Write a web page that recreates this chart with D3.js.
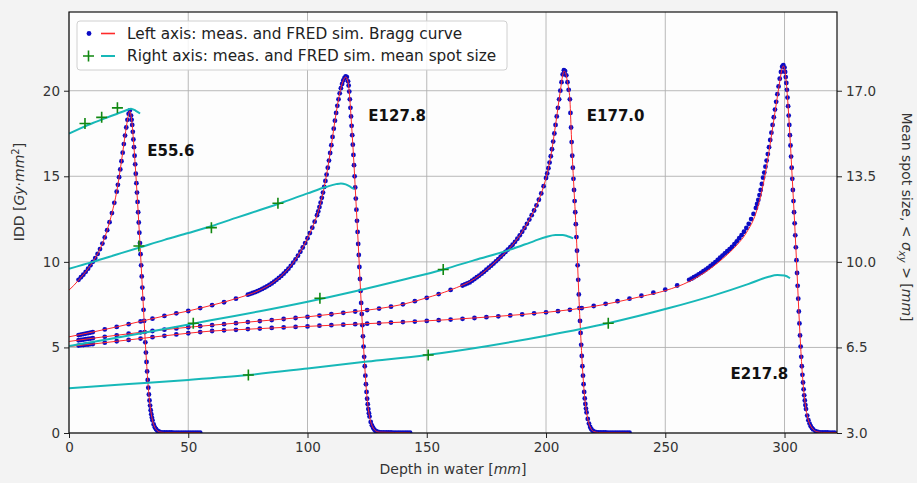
<!DOCTYPE html>
<html>
<head>
<meta charset="utf-8">
<script src="https://cdn.jsdelivr.net/npm/d3@7"></script>
<style>
  html, body { margin: 0; padding: 0; background: #f3f3f3; }
  svg { display: block; font-family: "DejaVu Sans", sans-serif; }
</style>
</head>
<body>
<svg id="chart" width="917" height="483"></svg>
<script>
// ---- tick labels ----
const depthTicks = [0, 50, 100, 150, 200, 250, 300];
const iddTicks = [0, 5, 10, 15, 20];
const spotTicks = [3.0, 6.5, 10.0, 13.5, 17.0];

// ---- beam energies (MeV) ----
const energies = ["E55.6", "E127.8", "E177.0", "E217.8"];

// ---- measured integral depth dose, [depth mm, IDD] ----
const measE55 = [[4,8.95],[5,9.1],[6,9.25],[7,9.42],[8,9.6],[9,9.8],[10,10.0],[11,10.22],[12,10.47],[13,10.75],[14,11.07],[15,11.43],[16,11.85],[17,12.32],[18,12.85],[19,13.45],[20,14.1],[20.5,14.5],[21,14.95],[21.5,15.4],[22,15.88],[22.5,16.38],[23,16.88],[23.5,17.38],[24,17.85],[24.5,18.3],[25,18.65],[25.5,18.85],
  [26,18.55],[26.25,18.3],[26.5,18.0],[26.75,17.6],[27,17.15],[27.25,16.7],[27.5,16.2],[27.75,15.7],[28,15.15],[28.25,14.6],[28.5,14.05],[28.75,13.5],[29,12.9],[29.25,12.3],[29.5,11.7],[29.75,11.1],[30,10.45],[30.25,9.8],[30.5,9.15],[30.75,8.5],[31,7.85],[31.25,7.2],[31.5,6.55],[31.75,5.9],[32,5.3],[32.25,4.7],[32.5,4.15],[32.75,3.6],[33,3.1],[33.25,2.65],[33.5,2.25],[33.75,1.9],[34,1.6],[34.25,1.33],[34.5,1.1],[34.75,0.9],[35,0.74],[35.5,0.5],[36,0.33],[36.5,0.22],[37,0.14],[37.5,0.09],[38,0.06],[39,0.04],
  [40,0.03],[41,0.03],[42,0.03],[43,0.03],[44,0.02],[45,0.02],[46,0.02],[47,0.02],[48,0.02],[49,0.02],[50,0.02],[51,0.02],[52,0.02],[53,0.02],[54,0.02],[55,0.02]];

const measE127 = [[4,5.72],[5,5.75],[6,5.78],[7,5.81],[8,5.84],[9,5.87],[10,5.9],[15,6.05],[20,6.2],[25,6.36],[30,6.52],[35,6.68],[40,6.84],[45,6.99],[50,7.13],[55,7.3],[60,7.47],[65,7.64],[70,7.85],[75,8.08],
  [76,8.13],[77,8.18],[78,8.23],[79,8.29],[80,8.35],[81,8.42],[82,8.49],[83,8.57],[84,8.65],[85,8.74],[86,8.84],[87,8.95],[88,9.06],[89,9.18],[90,9.31],[91,9.45],[92,9.6],[93,9.77],[94,9.95],[95,10.15],[96,10.36],[97,10.59],[98,10.84],[99,11.1],[100,11.38],[101,11.68],[102,12.0],[103,12.35],[104,12.73],[104.5,12.95],[105,13.2],[105.5,13.46],[106,13.74],[106.5,14.05],[107,14.38],[107.5,14.73],[108,15.1],[108.5,15.5],[109,15.92],[109.5,16.36],[110,16.82],[110.5,17.3],[111,17.78],[111.5,18.25],[112,18.7],[112.5,19.12],[113,19.5],[113.5,19.85],[114,20.15],[114.5,20.4],[115,20.6],[115.5,20.75],[116,20.83],[116.5,20.8],[117,20.55],
  [117.25,20.3],[117.5,19.95],[117.75,19.5],[118,19.0],[118.25,18.5],[118.5,17.95],[118.75,17.4],[119,16.85],[119.25,16.25],[119.5,15.65],[119.75,15.0],[120,14.35],[120.25,13.7],[120.5,13.05],[120.75,12.4],[121,11.75],[121.25,11.05],[121.5,10.4],[121.75,9.7],[122,9.0],[122.25,8.3],[122.5,7.6],[122.75,6.95],[123,6.3],[123.25,5.65],[123.5,5.05],[123.75,4.45],[124,3.9],[124.25,3.35],[124.5,2.85],[124.75,2.4],[125,2.0],[125.25,1.68],[125.5,1.4],[125.75,1.16],[126,0.96],[126.5,0.65],[127,0.45],[127.5,0.3],[128,0.2],[128.5,0.13],[129,0.09],[130,0.05],
  [131,0.03],[132,0.03],[133,0.03],[134,0.03],[135,0.03],[136,0.02],[137,0.02],[138,0.02],[139,0.02],[140,0.02],[141,0.02],[142,0.02],[143,0.02]];

const measE177 = [[4,5.42],[5,5.44],[6,5.46],[7,5.48],[8,5.5],[9,5.52],[10,5.54],[15,5.62],[20,5.71],[25,5.8],[30,5.88],[35,5.96],[40,6.04],[45,6.11],[50,6.18],[55,6.24],[60,6.3],[65,6.36],[70,6.42],[75,6.48],[80,6.54],[85,6.6],[90,6.66],[95,6.72],[100,6.79],[105,6.86],[110,6.94],[115,7.02],[120,7.1],[125,7.18],[130,7.27],[135,7.38],[140,7.52],[145,7.7],[150,7.9],[155,8.12],[160,8.36],[165,8.62],
  [166,8.68],[167,8.74],[168,8.8],[169,8.9],[170,9.0],[171,9.1],[172,9.2],[173,9.31],[174,9.42],[175,9.54],[176,9.66],[177,9.78],[178,9.9],[179,10.03],[180,10.16],[181,10.3],[182,10.44],[183,10.58],[184,10.72],[185,10.86],[186,11.0],[187,11.17],[188,11.35],[189,11.55],[190,11.76],[191,11.98],[192,12.22],[193,12.47],[194,12.73],[195,13.0],[196,13.3],[197,13.63],[198,14.0],[199,14.42],[200,14.9],[200.5,15.17],[201,15.47],[201.5,15.8],[202,16.17],[202.5,16.58],[203,17.03],[203.5,17.5],[204,18.0],[204.5,18.5],[205,19.0],[205.5,19.5],[206,20.0],[206.5,20.5],[207,20.95],[207.5,21.2],[208,21.15],[208.5,20.9],[209,20.5],[209.5,20.05],[210,19.5],
  [210.25,18.7],[210.5,17.85],[210.75,17.0],[211,16.2],[211.25,15.5],[211.5,14.85],[211.75,14.2],[212,13.55],[212.25,12.9],[212.5,12.2],[212.75,11.45],[213,10.65],[213.25,9.8],[213.5,8.95],[213.75,8.1],[214,7.3],[214.25,6.55],[214.5,5.85],[214.75,5.15],[215,4.5],[215.25,3.9],[215.5,3.35],[215.75,2.85],[216,2.4],[216.25,2.02],[216.5,1.7],[216.75,1.43],[217,1.2],[217.5,0.82],[218,0.55],[218.5,0.35],[219,0.22],[219.5,0.14],[220,0.09],[221,0.05],
  [222,0.03],[223,0.03],[224,0.03],[225,0.03],[226,0.02],[227,0.02],[228,0.02],[229,0.02],[230,0.02],[231,0.02],[232,0.02],[233,0.02],[234,0.02],[235,0.02]];

const measE217 = [[4,5.11],[5,5.13],[6,5.14],[7,5.16],[8,5.17],[9,5.19],[10,5.2],[15,5.28],[20,5.36],[25,5.44],[30,5.52],[35,5.6],[40,5.68],[45,5.76],[50,5.83],[55,5.9],[60,5.96],[65,6.0],[70,6.03],[75,6.07],[80,6.1],[85,6.14],[90,6.17],[95,6.2],[100,6.23],[105,6.27],[110,6.3],[115,6.33],[120,6.36],[125,6.39],[130,6.42],[135,6.45],[140,6.48],[145,6.51],[150,6.55],[155,6.59],[160,6.63],[165,6.67],[170,6.72],[175,6.77],[180,6.82],[185,6.87],[190,6.93],[195,6.99],[200,7.05],[205,7.12],[210,7.2],[215,7.3],[220,7.42],[225,7.55],[230,7.7],[235,7.85],[240,8.02],[245,8.2],[250,8.38],[255,8.62],
  [260,8.95],[261,9.02],[262,9.1],[263,9.18],[264,9.27],[265,9.36],[266,9.45],[267,9.55],[268,9.65],[269,9.76],[270,9.87],[271,9.99],[272,10.11],[273,10.24],[274,10.37],[275,10.5],[276,10.62],[277,10.75],[278,10.88],[279,11.04],[280,11.2],[281,11.38],[282,11.56],[283,11.76],[284,11.98],[285,12.22],[286,12.5],[287,12.8],[288,13.15],[288.5,13.38],[289,13.62],[289.5,13.9],[290,14.2],[290.5,14.55],[291,14.92],[291.5,15.22],[292,15.56],[292.5,15.92],[293,16.3],[293.5,16.7],[294,17.12],[294.5,17.55],[295,18.0],[295.5,18.45],[296,18.9],[296.5,19.35],[297,19.8],[297.5,20.25],[298,20.7],[298.5,21.1],[299,21.4],[299.5,21.5],
  [300,21.35],[300.25,21.1],[300.5,20.8],[300.75,20.45],[301,20.05],[301.25,19.6],[301.5,19.1],[301.75,18.55],[302,18.0],[302.25,17.4],[302.5,16.8],[302.75,16.15],[303,15.5],[303.25,14.85],[303.5,14.2],[303.75,13.55],[304,12.9],[304.25,12.25],[304.5,11.55],[304.75,10.85],[305,10.1],[305.25,9.35],[305.5,8.6],[305.75,7.85],[306,7.1],[306.25,6.4],[306.5,5.7],[306.75,5.05],[307,4.45],[307.25,3.9],[307.5,3.4],[307.75,2.95],[308,2.55],[308.25,2.2],[308.5,1.9],[308.75,1.63],[309,1.4],[309.5,1.02],[310,0.75],[310.5,0.55],[311,0.4],[311.5,0.29],[312,0.21],[313,0.11],[314,0.06],[315,0.04],
  [316,0.03],[317,0.03],[318,0.03],[319,0.02],[320,0.02],[321,0.02]];

// ---- FRED simulated integral depth dose, [depth mm, IDD] ----
const simE55 = [[0,8.35],[2,8.62],[4,8.93],[6,9.25],[8,9.6],[10,10.0],[12,10.47],[14,11.07],[16,11.85],[18,12.85],[20,14.1],[21,14.95],[22,15.88],[23,16.88],[24,17.85],[25,18.62],[25.5,18.8],[26,18.55],[26.5,18.0],[27,17.15],[27.5,16.2],[28,15.15],[28.5,14.05],[29,12.9],[29.5,11.7],[30,10.45],[30.5,9.15],[31,7.85],[31.5,6.55],[32,5.3],[32.5,4.15],[33,3.1],[33.5,2.25],[34,1.6],[34.5,1.1],[35,0.74],[36,0.33],[37,0.14],[38,0.06],[40,0.03],[55,0.02]];
const simE127 = [[0,5.62],[10,5.9],[20,6.2],[30,6.52],[40,6.84],[50,7.13],[60,7.47],[70,7.85],[80,8.35],[85,8.74],[90,9.31],[95,10.15],[100,11.38],[102,12.0],[104,12.73],[106,13.74],[108,15.1],[110,16.82],[112,18.7],[113,19.5],[114,20.15],[115,20.6],[116,20.8],[117,20.5],[117.5,19.95],[118,19.0],[118.5,17.95],[119,16.85],[119.5,15.65],[120,14.35],[120.5,13.05],[121,11.75],[121.5,10.4],[122,9.0],[122.5,7.6],[123,6.3],[123.5,5.05],[124,3.9],[124.5,2.85],[125,2.0],[125.5,1.4],[126,0.96],[127,0.45],[128,0.2],[130,0.05],[143,0.02]];
const simE177 = [[0,5.35],[10,5.54],[20,5.71],[30,5.88],[40,6.04],[50,6.18],[60,6.3],[70,6.42],[80,6.54],[90,6.66],[100,6.79],[110,6.94],[120,7.1],[130,7.27],[140,7.52],[150,7.9],[160,8.36],[170,9.0],[180,10.16],[186,11.0],[190,11.76],[194,12.73],[197,13.63],[200,14.9],[202,16.17],[204,18.0],[206,20.0],[207,20.9],[207.5,21.15],[208,21.1],[209,20.5],[210,19.5],[210.5,17.85],[211,16.2],[211.5,14.85],[212,13.55],[212.5,12.2],[213,10.65],[213.5,8.95],[214,7.3],[214.5,5.85],[215,4.5],[215.5,3.35],[216,2.4],[216.5,1.7],[217,1.2],[218,0.55],[219,0.22],[220,0.09],[222,0.03],[235,0.02]];
const simE217 = [[0,5.05],[10,5.2],[20,5.36],[30,5.52],[40,5.68],[50,5.83],[60,5.96],[70,6.03],[80,6.1],[90,6.17],[100,6.23],[120,6.36],[140,6.48],[160,6.63],[180,6.82],[200,7.05],[220,7.4],[240,7.98],[250,8.32],[260,8.85],[265,9.25],[270,9.72],[275,10.3],[280,10.98],[284,11.7],[288,12.85],[290,13.85],[292,15.2],[294,16.9],[296,18.75],[297,19.65],[298,20.55],[299,21.3],[299.5,21.45],[300,21.3],[300.5,20.8],[301,20.05],[301.5,19.1],[302,18.0],[302.5,16.8],[303,15.5],[303.5,14.2],[304,12.9],[304.5,11.55],[305,10.1],[305.5,8.6],[306,7.1],[306.5,5.7],[307,4.45],[307.5,3.4],[308,2.55],[308.5,1.9],[309,1.4],[310,0.75],[311,0.4],[312,0.21],[314,0.06],[316,0.03],[322,0.02]];

// ---- mean spot size: FRED simulation, [depth mm, sigma mm] ----
const spotSimE55 = [[0,15.25],[5,15.47],[10,15.68],[15,15.87],[20,16.05],[24,16.2],[26,16.26],[28,16.18],[29.8,16.07]];
const spotSimE127 = [[0,9.72],[10,10.0],[20,10.3],[30,10.6],[40,10.9],[50,11.18],[60,11.47],[70,11.8],[80,12.12],[90,12.45],[100,12.8],[108,13.07],[112,13.18],[114,13.21],[116,13.17],[118,13.07],[119.5,12.98]];
const spotSimE177 = [[0,6.56],[20,6.9],[40,7.25],[52,7.47],[60,7.62],[80,7.98],[100,8.37],[120,8.8],[140,9.27],[157,9.69],[170,10.07],[185,10.5],[195,10.85],[200,11.02],[204,11.1],[207,11.1],[209,11.05],[211.4,10.96]];
const spotSimE217 = [[0,4.83],[25,5.0],[50,5.17],[75,5.37],[100,5.64],[125,5.92],[150,6.19],[175,6.55],[200,6.98],[226,7.49],[252,8.12],[270,8.62],[285,9.1],[293,9.38],[297,9.46],[300,9.44],[302.3,9.33]];

// ---- mean spot size: measurements, [depth mm, sigma mm] ----
const spotMeasE55 = [[6.7,15.66],[13.7,15.91],[20.3,16.3]];
const spotMeasE127 = [[29.3,10.65],[59.7,11.4],[87.6,12.4]];
const spotMeasE177 = [[52.1,7.49],[105.2,8.51],[156.9,9.69]];
const spotMeasE217 = [[75.2,5.37],[150.6,6.19],[226.1,7.49]];

// ---- energy label anchors, [depth mm, IDD] ----
const labelDepth = [32.8, 125.5, 217.1, 277.4];
const labelIdd = [16.5, 18.57, 18.57, 3.49];

const measIdd = [measE55, measE127, measE177, measE217];
const simIdd = [simE55, simE127, simE177, simE217];
const spotSim = [spotSimE55, spotSimE127, spotSimE177, spotSimE217];
const spotMeas = [spotMeasE55, spotMeasE127, spotMeasE177, spotMeasE217];

// ---- layout ----
const W = 917, H = 483;
const plot = { left: 69, right: 837, top: 12, bottom: 433 };
const iddMax = 24.6;

const x = d3.scaleLinear().domain([0, 322]).range([plot.left, plot.right]);
const yL = d3.scaleLinear().domain([0, iddMax]).range([plot.bottom, plot.top]);
const yR = d3.scaleLinear().domain([3, 3 + 0.7 * iddMax]).range([plot.bottom, plot.top]);

const svg = d3.select("#chart");
svg.append("rect").attr("width", W).attr("height", H).attr("fill", "#f3f3f3");
svg.append("rect")
  .attr("x", plot.left).attr("y", plot.top)
  .attr("width", plot.right - plot.left).attr("height", plot.bottom - plot.top)
  .attr("fill", "#fdfdfd");

svg.append("defs").append("clipPath").attr("id", "clip")
  .append("rect")
  .attr("x", plot.left).attr("y", plot.top)
  .attr("width", plot.right - plot.left).attr("height", plot.bottom - plot.top);

// grid
const grid = svg.append("g").attr("stroke", "#b0b0b0").attr("stroke-width", 0.9);
grid.selectAll(".gx").data(depthTicks).join("line")
  .attr("x1", d => x(d)).attr("x2", d => x(d))
  .attr("y1", plot.top).attr("y2", plot.bottom);
grid.selectAll(".gy").data(iddTicks).join("line")
  .attr("x1", plot.left).attr("x2", plot.right)
  .attr("y1", d => yL(d)).attr("y2", d => yL(d));

const layer = svg.append("g").attr("clip-path", "url(#clip)");

// Bragg curves: measured dots with the simulated line through them
const simLine = d3.line().x(d => x(d[0])).y(d => yL(d[1])).curve(d3.curveMonotoneX);
measIdd.forEach((series, i) => {
  layer.append("g").selectAll("circle").data(series).join("circle")
    .attr("cx", d => x(d[0])).attr("cy", d => yL(d[1]))
    .attr("r", 2.4).attr("fill", "#0c0cc4");
  layer.append("path").datum(simIdd[i])
    .attr("d", simLine).attr("fill", "none")
    .attr("stroke", "#ff2a2a").attr("stroke-width", 1);
});

// spot size (right axis)
const spotLine = d3.line().x(d => x(d[0])).y(d => yR(d[1])).curve(d3.curveMonotoneX);
spotSim.forEach((series, i) => {
  layer.append("path").datum(series)
    .attr("d", spotLine).attr("fill", "none")
    .attr("stroke", "#17b8b8").attr("stroke-width", 2);
  const m = layer.append("g").attr("stroke", "#118811").attr("stroke-width", 1.6);
  m.selectAll("path").data(spotMeas[i]).join("path")
    .attr("d", d => `M${x(d[0]) - 5.5},${yR(d[1])}h11M${x(d[0])},${yR(d[1]) - 5.5}v11`);
});

// energy labels
svg.append("g").selectAll("text").data(energies).join("text")
  .attr("x", (d, i) => x(labelDepth[i]))
  .attr("y", (d, i) => yL(labelIdd[i]))
  .attr("dy", "0.36em")
  .attr("font-size", 15).attr("font-weight", "bold").attr("fill", "#111")
  .text(d => d);

// axes
const axisStyle = g => {
  g.select(".domain").remove();
  g.selectAll(".tick line").attr("stroke", "#222").attr("stroke-width", 1);
  g.selectAll(".tick text").attr("fill", "#333").attr("font-size", 13.5)
    .attr("font-family", "DejaVu Sans");
};
svg.append("g").attr("transform", `translate(0,${plot.bottom})`)
  .call(d3.axisBottom(x).tickValues(depthTicks).tickFormat(d3.format("d")).tickSize(5).tickPadding(4))
  .call(axisStyle);
svg.append("g").attr("transform", `translate(${plot.left},0)`)
  .call(d3.axisLeft(yL).tickValues(iddTicks).tickFormat(d3.format("d")).tickSize(5).tickPadding(4))
  .call(axisStyle);
svg.append("g").attr("transform", `translate(${plot.right},0)`)
  .call(d3.axisRight(yR).tickValues(spotTicks).tickFormat(d3.format(".1f")).tickSize(5).tickPadding(4))
  .call(axisStyle);

// frame
svg.append("rect")
  .attr("x", plot.left).attr("y", plot.top)
  .attr("width", plot.right - plot.left).attr("height", plot.bottom - plot.top)
  .attr("fill", "none").attr("stroke", "#111").attr("stroke-width", 1.2);

// axis titles
svg.append("text")
  .attr("x", (plot.left + plot.right) / 2).attr("y", 474)
  .attr("text-anchor", "middle").attr("font-size", 14).attr("fill", "#333")
  .call(t => {
    t.append("tspan").text("Depth in water [");
    t.append("tspan").attr("font-style", "italic").text("mm");
    t.append("tspan").text("]");
  });

svg.append("text")
  .attr("transform", "translate(24,192) rotate(-90)")
  .attr("text-anchor", "middle").attr("font-size", 14).attr("fill", "#333")
  .call(t => {
    t.append("tspan").text("IDD [");
    t.append("tspan").attr("font-style", "italic").text("Gy");
    t.append("tspan").text("·");
    t.append("tspan").attr("font-style", "italic").text("mm");
    t.append("tspan").attr("font-size", 10).attr("dy", -5).text("2");
    t.append("tspan").attr("dy", 5).text("]");
  });

svg.append("text")
  .attr("transform", "translate(902,217) rotate(90)")
  .attr("text-anchor", "middle").attr("font-size", 14).attr("fill", "#333")
  .call(t => {
    t.append("tspan").text("Mean spot size,  < ");
    t.append("tspan").attr("font-style", "italic").text("σ");
    t.append("tspan").attr("font-style", "italic").attr("font-size", 10).attr("dy", 3).text("xy");
    t.append("tspan").attr("dy", -3).text(" > [");
    t.append("tspan").attr("font-style", "italic").text("mm");
    t.append("tspan").text("]");
  });

// legend
const lg = svg.append("g");
lg.append("rect").attr("x", 77).attr("y", 21).attr("width", 430).attr("height", 49)
  .attr("rx", 3).attr("fill", "#ffffff").attr("fill-opacity", 0.85)
  .attr("stroke", "#d0d0d0").attr("stroke-width", 1);
lg.append("circle").attr("cx", 89).attr("cy", 33.5).attr("r", 2.4).attr("fill", "#0c0cc4");
lg.append("line").attr("x1", 101).attr("x2", 115).attr("y1", 33.5).attr("y2", 33.5)
  .attr("stroke", "#ff2a2a").attr("stroke-width", 1.6);
lg.append("path").attr("d", "M83,56h11M88.5,50.5v11").attr("stroke", "#118811").attr("stroke-width", 1.6);
lg.append("line").attr("x1", 101).attr("x2", 115).attr("y1", 56).attr("y2", 56)
  .attr("stroke", "#17b8b8").attr("stroke-width", 2);
lg.append("text").attr("x", 127).attr("y", 33.5).attr("dy", "0.35em")
  .attr("font-size", 15.3).attr("fill", "#222").text("Left axis: meas. and FRED sim. Bragg curve");
lg.append("text").attr("x", 127).attr("y", 56).attr("dy", "0.35em")
  .attr("font-size", 15.3).attr("fill", "#222").text("Right axis: meas. and FRED sim. mean spot size");
</script>
</body>
</html>
